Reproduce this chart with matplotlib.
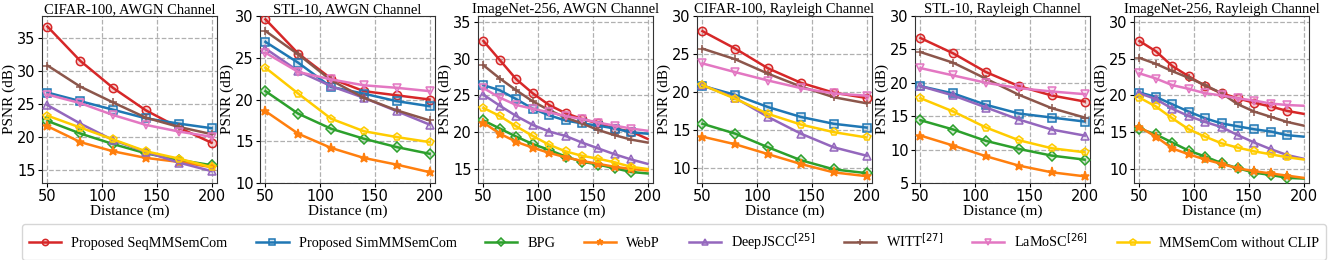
import matplotlib
matplotlib.use("Agg")
import matplotlib.pyplot as plt
from matplotlib.colors import to_rgba

# ---------------- data ----------------
x6 = [50, 80, 110, 140, 170, 200]
x11 = [50, 65, 80, 95, 110, 125, 140, 155, 170, 185, 200]

methods = ["Proposed SeqMMSemCom", "Proposed SimMMSemCom", "BPG", "WebP",
           "DeepJSCC$^{[25]}$", "WITT$^{[27]}$", "LaMoSC$^{[26]}$", "MMSemCom without CLIP"]

titles = ["CIFAR-100, AWGN Channel", "STL-10, AWGN Channel", "ImageNet-256, AWGN Channel",
          "CIFAR-100, Rayleigh Channel", "STL-10, Rayleigh Channel", "ImageNet-256, Rayleigh Channel"]

cifar_awgn = {
    "seq":   [36.8, 31.6, 27.5, 24.1, 21.5, 19.2],
    "sim":   [26.8, 25.5, 24.2, 22.9, 22.1, 21.4],
    "bpg":   [22.5, 20.6, 19.0, 17.6, 16.6, 15.8],
    "webp":  [21.7, 19.3, 17.9, 16.9, 16.3, 15.5],
    "djscc": [24.9, 22.1, 19.6, 17.8, 16.2, 14.9],
    "witt":  [30.9, 27.7, 25.3, 23.0, 21.6, 20.5],
    "lamosc":[26.5, 25.2, 23.4, 21.9, 20.9, 20.1],
    "noclip":[23.3, 21.5, 19.7, 17.9, 16.8, 15.5],
}
stl_awgn = {
    "seq":   [29.6, 25.5, 22.5, 21.0, 20.5, 20.0],
    "sim":   [26.9, 24.4, 21.5, 20.7, 19.8, 19.2],
    "bpg":   [21.0, 18.3, 16.5, 15.3, 14.3, 13.5],
    "webp":  [18.6, 15.9, 14.2, 13.0, 12.2, 11.3],
    "djscc": [26.1, 23.4, 21.6, 20.2, 18.6, 17.0],
    "witt":  [28.2, 25.4, 22.3, 20.2, 18.7, 17.5],
    "lamosc":[25.6, 23.3, 22.4, 21.7, 21.4, 21.0],
    "noclip":[23.8, 20.7, 17.7, 16.2, 15.5, 14.9],
}
imnet_awgn = {
    "seq":   [32.4, 29.8, 27.2, 25.3, 23.7, 22.6, 21.8, 21.2, 20.5, 20.1, 19.1],
    "sim":   [26.4, 25.7, 24.5, 23.2, 22.3, 21.6, 21.2, 20.9, 20.5, 20.0, 19.8],
    "bpg":   [21.6, 20.5, 19.4, 18.4, 17.6, 16.7, 16.0, 15.6, 15.1, 14.6, 14.4],
    "webp":  [21.3, 19.8, 18.7, 17.9, 17.2, 16.6, 16.1, 15.7, 15.3, 15.0, 14.8],
    "djscc": [25.1, 23.6, 22.2, 21.0, 20.1, 19.5, 18.6, 17.8, 17.0, 16.3, 15.7],
    "witt":  [29.1, 27.3, 25.7, 24.2, 23.0, 22.0, 21.2, 20.3, 19.6, 19.0, 18.6],
    "lamosc":[26.0, 24.7, 23.7, 23.2, 22.7, 22.2, 21.8, 21.3, 20.9, 20.5, 20.2],
    "noclip":[23.3, 22.2, 20.8, 19.5, 18.3, 17.4, 16.8, 16.4, 15.9, 15.3, 15.0],
}
cifar_ray = {
    "seq":   [28.0, 25.7, 23.1, 21.2, 19.9, 19.2],
    "sim":   [20.8, 19.6, 18.0, 16.7, 15.8, 15.3],
    "bpg":   [15.8, 14.5, 12.7, 11.0, 9.8, 9.3],
    "webp":  [14.1, 13.1, 11.8, 10.5, 9.4, 8.9],
    "djscc": [20.9, 19.2, 16.7, 14.5, 12.7, 11.6],
    "witt":  [25.7, 24.3, 22.4, 20.7, 19.3, 18.5],
    "lamosc":[23.75, 22.6, 21.5, 20.5, 19.8, 19.5],
    "noclip":[20.9, 19.1, 17.1, 15.7, 14.7, 14.0],
}
stl_ray = {
    "seq":   [26.7, 24.4, 21.6, 19.5, 18.1, 17.2],
    "sim":   [19.5, 18.4, 16.7, 15.4, 14.8, 14.2],
    "bpg":   [14.4, 13.0, 11.3, 10.1, 9.1, 8.5],
    "webp":  [12.1, 10.6, 9.0, 7.6, 6.6, 6.0],
    "djscc": [19.5, 18.1, 16.3, 14.5, 13.0, 12.1],
    "witt":  [24.6, 23.0, 20.6, 18.2, 16.2, 14.8],
    "lamosc":[22.2, 21.1, 20.0, 19.2, 18.7, 18.3],
    "noclip":[17.7, 15.7, 13.3, 11.4, 10.2, 9.6],
}
imnet_ray = {
    "seq":   [27.4, 26.0, 24.0, 22.6, 21.3, 20.3, 19.6, 19.0, 18.5, 17.9, 17.5],
    "sim":   [20.4, 19.8, 18.8, 17.8, 16.9, 16.2, 15.8, 15.4, 15.1, 14.6, 14.4],
    "bpg":   [15.5, 14.7, 13.6, 12.5, 11.7, 10.8, 10.1, 9.5, 9.2, 8.8, 8.7],
    "webp":  [15.7, 14.4, 12.8, 12.0, 11.3, 10.7, 10.1, 9.7, 9.4, 9.1, 8.8],
    "djscc": [20.3, 19.5, 18.2, 17.2, 16.4, 15.7, 14.6, 13.6, 12.7, 11.9, 11.4],
    "witt":  [25.1, 24.3, 23.3, 22.4, 21.4, 20.3, 18.8, 17.8, 17.1, 16.4, 15.9],
    "lamosc":[23.0, 22.3, 21.4, 20.9, 20.3, 20.0, 19.6, 19.3, 18.9, 18.7, 18.6],
    "noclip":[19.7, 18.5, 16.9, 15.4, 14.4, 13.5, 12.9, 12.4, 12.0, 11.6, 11.3],
}

panels = [(x6, cifar_awgn), (x6, stl_awgn), (x11, imnet_awgn),
          (x6, cifar_ray), (x6, stl_ray), (x11, imnet_ray)]
ylims = [(13.1, 38.4), (10, 30), (13.1, 35.8), (8, 30), (5, 30), (8.1, 30.8)]
yticks = [[15, 20, 25, 30, 35], [10, 15, 20, 25, 30], [15, 20, 25, 30, 35],
          [10, 15, 20, 25, 30], [5, 10, 15, 20, 25, 30], [10, 15, 20, 25, 30]]

keys = ["seq", "sim", "bpg", "webp", "djscc", "witt", "lamosc", "noclip"]
colors = ["#d62728", "#1f77b4", "#2ca02c", "#ff7f0e", "#9467bd", "#8c564b", "#e377c2", "#ffcc00"]
markers = ["o", "s", "D", "*", "^", "+", "v", "p"]
msizes = [6, 6, 5.5, 6.5, 6, 6, 6, 6]

serif = ["Liberation Serif", "DejaVu Serif"]

fig = plt.figure(figsize=(13.39, 2.6), dpi=100)
W, H = 1339, 260
lefts = [42, 260, 478, 697, 915, 1134]
width = 175
top, bottom = 16, 183

handles = []
for i, (xs, d) in enumerate(panels):
    ax = fig.add_axes([lefts[i] / W, 1 - bottom / H, width / W, (bottom - top) / H])
    for k, key in enumerate(keys):
        c = colors[k]
        if markers[k] in ("*", "+"):
            mfc = c
        else:
            mfc = to_rgba(c, 0.2)
        me = list(range(10)) if len(xs) == 11 else None
        ln, = ax.plot(xs, d[key], color=c, marker=markers[k], markersize=msizes[k],
                      markerfacecolor=mfc, markeredgecolor=c, markeredgewidth=1.1,
                      linewidth=1.8, markevery=me, label=methods[k], zorder=3)
        if i == 0:
            handles.append(ln)
    ax.set_xlim(45, 205)
    ax.set_ylim(*ylims[i])
    ax.set_xticks([50, 100, 150, 200])
    ax.set_yticks(yticks[i])
    ax.tick_params(labelsize=10.5, length=3, pad=1.5)
    ax.grid(True, linestyle="--", color="#b0b0b0", linewidth=0.9)
    ax.set_axisbelow(True)
    ax.set_title(titles[i], family=serif, fontsize=10.5, pad=2)
    ax.set_xlabel("Distance (m)", family=serif, fontsize=11, labelpad=0)
    ax.set_ylabel("PSNR (dB)", family=serif, fontsize=11, labelpad=1)
    for s in ax.spines.values():
        s.set_color("#333333")

leg = fig.legend(handles=handles, loc="center", bbox_to_anchor=(0.5035, 1 - 242 / H),
                 ncol=8, prop={"family": serif, "size": 10.3}, frameon=True,
                 handlelength=2.25, handletextpad=0.7, columnspacing=2.0,
                 markerscale=0.75, borderpad=0.5, fancybox=True)
leg.get_frame().set_edgecolor("#cccccc")

fig.savefig("out.png", dpi=100)
